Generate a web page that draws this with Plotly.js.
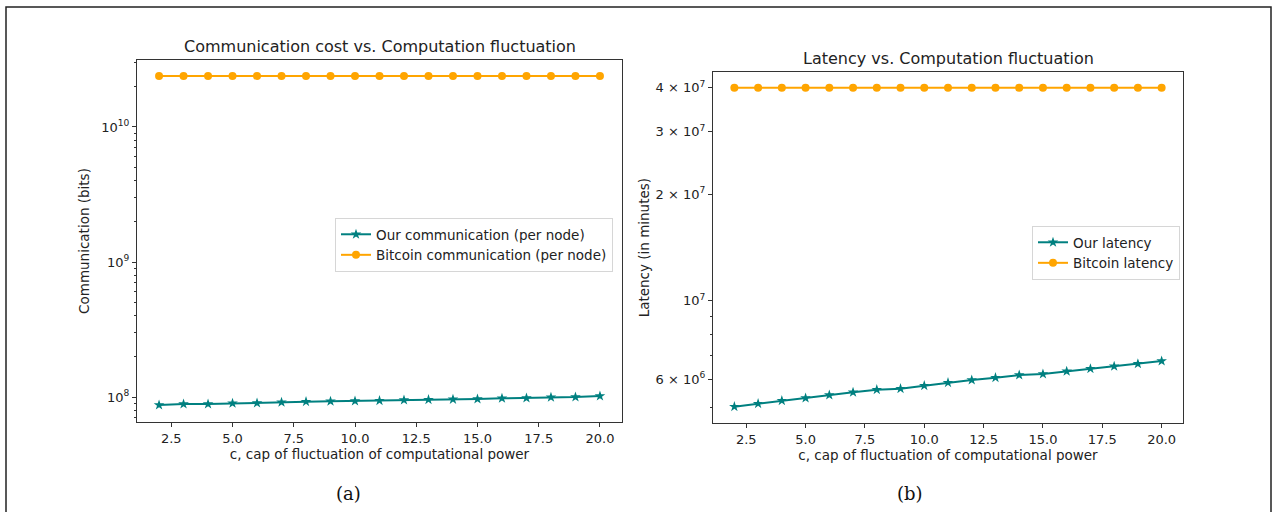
<!DOCTYPE html>
<html>
<head>
<meta charset="utf-8">
<script src="https://cdn.plot.ly/plotly-3.0.1.min.js"></script>
<style>
html,body{margin:0;padding:0;background:#fff;}
#chart{width:1274px;height:512px;}
</style>
</head>
<body>
<div id="chart"></div>
<script>
// ---- data ----
const capValues = [2,3,4,5,6,7,8,9,10,11,12,13,14,15,16,17,18,19,20];
const ourCommunication = [8.73e7,8.87e7,8.87e7,8.98e7,9.03e7,9.14e7,9.23e7,9.29e7,9.34e7,9.40e7,9.50e7,9.55e7,9.61e7,9.67e7,9.78e7,9.83e7,9.95e7,1.0e8,1.017e8];
const bitcoinCommunication = [2.39e10,2.39e10,2.39e10,2.39e10,2.39e10,2.39e10,2.39e10,2.39e10,2.39e10,2.39e10,2.39e10,2.39e10,2.39e10,2.39e10,2.39e10,2.39e10,2.39e10,2.39e10,2.39e10];
const ourLatency = [5.017e6,5.116e6,5.217e6,5.309e6,5.414e6,5.510e6,5.604e6,5.640e6,5.752e6,5.864e6,5.969e6,6.059e6,6.166e6,6.206e6,6.315e6,6.423e6,6.525e6,6.635e6,6.753e6];
const bitcoinLatency = [4e7,4e7,4e7,4e7,4e7,4e7,4e7,4e7,4e7,4e7,4e7,4e7,4e7,4e7,4e7,4e7,4e7,4e7,4e7];

const commTickVals = [1e8, 1e9, 1e10];
const commTickText = ['10<sup>8</sup>', '10<sup>9</sup>', '10<sup>10</sup>'];
const commMinorVals = [7e7,8e7,9e7,2e8,3e8,4e8,5e8,6e8,7e8,8e8,9e8,2e9,3e9,4e9,5e9,6e9,7e9,8e9,9e9,2e10,3e10];
const latTickVals = [6e6, 1e7, 2e7, 3e7, 4e7];
const latTickText = ['6 × 10<sup>6</sup>', '10<sup>7</sup>', '2 × 10<sup>7</sup>', '3 × 10<sup>7</sup>', '4 × 10<sup>7</sup>'];
const latMinorVals = [5e6, 7e6, 8e6, 9e6];

const TEAL = '#008080';
const ORANGE = '#FFA500';
const W = 1274, H = 512;
const px = v => v / W;
const py = v => 1 - v / H;

const traces = [
  {x: capValues, y: ourCommunication, name: 'Our communication (per node)', xaxis: 'x', yaxis: 'y',
   mode: 'lines+markers', line: {color: TEAL, width: 2}, marker: {symbol: 'star', size: 8, color: TEAL}, legend: 'legend'},
  {x: capValues, y: bitcoinCommunication, name: 'Bitcoin communication (per node)', xaxis: 'x', yaxis: 'y',
   mode: 'lines+markers', line: {color: ORANGE, width: 2}, marker: {symbol: 'circle', size: 8, color: ORANGE}, legend: 'legend'},
  {x: capValues, y: ourLatency, name: 'Our latency', xaxis: 'x2', yaxis: 'y2',
   mode: 'lines+markers', line: {color: TEAL, width: 2}, marker: {symbol: 'star', size: 8, color: TEAL}, legend: 'legend2'},
  {x: capValues, y: bitcoinLatency, name: 'Bitcoin latency', xaxis: 'x2', yaxis: 'y2',
   mode: 'lines+markers', line: {color: ORANGE, width: 2}, marker: {symbol: 'circle', size: 8, color: ORANGE}, legend: 'legend2'}
];

const tickFont = {family: 'DejaVu Sans', size: 13, color: '#222'};
const axisCommon = {
  showline: true, mirror: true, linecolor: '#333', linewidth: 1,
  ticks: 'outside', ticklen: 4, tickcolor: '#333', showgrid: false, zeroline: false,
  tickfont: tickFont, automargin: false
};
const xCommon = Object.assign({}, axisCommon, {range: [1.1, 20.9], tickmode: 'linear', tick0: 2.5, dtick: 2.5, tickformat: '.1f'});
const titleFont = {family: 'DejaVu Sans', size: 13.5, color: '#222'};

const layout = {
  width: W, height: H,
  margin: {l: 0, r: 0, t: 0, b: 0},
  paper_bgcolor: '#fff', plot_bgcolor: '#fff',
  font: {family: 'DejaVu Sans', size: 13, color: '#222'},
  xaxis: Object.assign({}, xCommon, {domain: [px(137), px(622)], anchor: 'y',
    title: {text: 'c, cap of fluctuation of computational power', font: titleFont, standoff: 4}}),
  yaxis: Object.assign({}, axisCommon, {domain: [py(422), py(60)], anchor: 'x', type: 'log',
    range: [7.815, 10.496], tickmode: 'array', tickvals: commTickVals, ticktext: commTickText,
    minor: {tickmode: 'array', tickvals: commMinorVals, ticks: 'outside', ticklen: 2, tickcolor: '#333'},
    title: {text: 'Communication (bits)', font: titleFont, standoff: 8}}),
  xaxis2: Object.assign({}, xCommon, {domain: [px(713), px(1183)], anchor: 'y2',
    title: {text: 'c, cap of fluctuation of computational power', font: titleFont, standoff: 4}}),
  yaxis2: Object.assign({}, axisCommon, {domain: [py(423.3), py(72)], anchor: 'x2', type: 'log',
    range: [6.6535, 7.6464], tickmode: 'array', tickvals: latTickVals, ticktext: latTickText,
    minor: {tickmode: 'array', tickvals: latMinorVals, ticks: 'outside', ticklen: 2, tickcolor: '#333'},
    title: {text: 'Latency (in minutes)', font: titleFont, standoff: 2}}),
  legend: {x: px(335), y: py(218), xanchor: 'left', yanchor: 'top', bgcolor: 'rgba(255,255,255,0.8)',
    bordercolor: '#d6d6d6', borderwidth: 1, font: {family: 'DejaVu Sans', size: 13.5, color: '#222'}, tracegroupgap: 0},
  legend2: {x: px(1032), y: py(226), xanchor: 'left', yanchor: 'top', bgcolor: 'rgba(255,255,255,0.8)',
    bordercolor: '#d6d6d6', borderwidth: 1, font: {family: 'DejaVu Sans', size: 13.5, color: '#222'}, tracegroupgap: 0},
  annotations: [
    {text: 'Communication cost vs. Computation fluctuation', xref: 'paper', yref: 'paper', x: px(379.5), y: py(46),
     xanchor: 'center', yanchor: 'middle', showarrow: false, font: {family: 'DejaVu Sans', size: 16, color: '#222'}},
    {text: 'Latency vs. Computation fluctuation', xref: 'paper', yref: 'paper', x: px(948), y: py(58),
     xanchor: 'center', yanchor: 'middle', showarrow: false, font: {family: 'DejaVu Sans', size: 16, color: '#222'}},
    {text: '(a)', xref: 'paper', yref: 'paper', x: px(348), y: py(493),
     xanchor: 'center', yanchor: 'middle', showarrow: false, font: {family: 'DejaVu Serif', size: 18, color: '#111'}},
    {text: '(b)', xref: 'paper', yref: 'paper', x: px(910), y: py(493),
     xanchor: 'center', yanchor: 'middle', showarrow: false, font: {family: 'DejaVu Serif', size: 18, color: '#111'}}
  ],
  shapes: [
    {type: 'rect', xref: 'paper', yref: 'paper', x0: px(6), x1: px(1271), y0: py(530), y1: py(7),
     line: {color: '#222', width: 1.5}, fillcolor: 'rgba(0,0,0,0)'}
  ]
};

Plotly.newPlot('chart', traces, layout, {staticPlot: true, displayModeBar: false});
</script>
</body>
</html>
